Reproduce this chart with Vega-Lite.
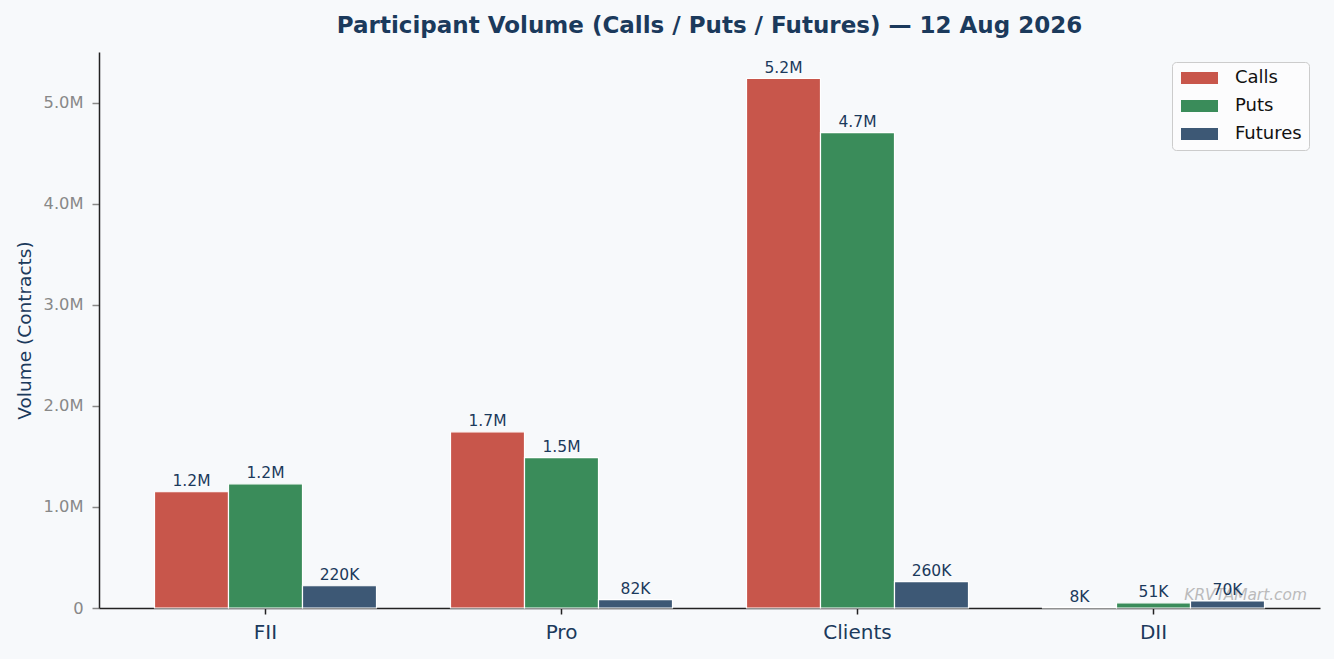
{
  "$schema": "https://vega.github.io/schema/vega-lite/v6.json",
  "width": 1221,
  "height": 556,
  "autosize": {"type": "none"},
  "padding": {"left": 99, "top": 52, "right": 14, "bottom": 51},
  "background": "#f7f9fb",
  "config": {
    "view": {"stroke": null},
    "font": "DejaVu Sans"
  },
  "title": {
    "text": "Participant Volume (Calls / Puts / Futures) — 12 Aug 2026",
    "font": "DejaVu Sans",
    "fontSize": 23,
    "fontWeight": "bold",
    "color": "#1b3a5c",
    "anchor": "middle",
    "offset": 14
  },
  "data": {
    "values": [
      {"participant": "FII", "type": "Calls", "volume": 1150000, "label": "1.2M"},
      {"participant": "FII", "type": "Puts", "volume": 1228000, "label": "1.2M"},
      {"participant": "FII", "type": "Futures", "volume": 220000, "label": "220K"},
      {"participant": "Pro", "type": "Calls", "volume": 1743000, "label": "1.7M"},
      {"participant": "Pro", "type": "Puts", "volume": 1487000, "label": "1.5M"},
      {"participant": "Pro", "type": "Futures", "volume": 82000, "label": "82K"},
      {"participant": "Clients", "type": "Calls", "volume": 5238000, "label": "5.2M"},
      {"participant": "Clients", "type": "Puts", "volume": 4703000, "label": "4.7M"},
      {"participant": "Clients", "type": "Futures", "volume": 260000, "label": "260K"},
      {"participant": "DII", "type": "Calls", "volume": 8000, "label": "8K"},
      {"participant": "DII", "type": "Puts", "volume": 51000, "label": "51K"},
      {"participant": "DII", "type": "Futures", "volume": 70000, "label": "70K"}
    ]
  },
  "encoding": {
    "x": {
      "field": "participant",
      "type": "nominal",
      "sort": ["FII", "Pro", "Clients", "DII"],
      "scale": {"paddingInner": 0, "paddingOuter": 0.0625},
      "axis": {
        "title": null,
        "labelAngle": 0,
        "labelFont": "DejaVu Sans",
        "labelFontSize": 20,
        "labelColor": "#1b3a5c",
        "labelPadding": 8,
        "domainColor": "#222222",
        "domainWidth": 1.5,
        "tickColor": "#222222",
        "tickSize": 6,
        "tickWidth": 1.5
      }
    },
    "xOffset": {
      "field": "type",
      "type": "nominal",
      "sort": ["Calls", "Puts", "Futures"],
      "scale": {"paddingInner": 0, "paddingOuter": 0.5}
    },
    "y": {
      "field": "volume",
      "type": "quantitative",
      "scale": {"domain": [0, 5500000], "nice": false},
      "axis": {
        "title": "Volume (Contracts)",
        "titleFont": "DejaVu Sans",
        "titleFontSize": 18.5,
        "titleFontWeight": "normal",
        "titleColor": "#1b3a5c",
        "titlePadding": 9,
        "values": [0, 1000000, 2000000, 3000000, 4000000, 5000000],
        "labelExpr": "datum.value == 0 ? '0' : format(datum.value / 1000000, '.1f') + 'M'",
        "labelFont": "DejaVu Sans",
        "labelFontSize": 16.3,
        "labelColor": "#888888",
        "labelPadding": 9,
        "grid": false,
        "domainColor": "#222222",
        "domainWidth": 1.5,
        "tickColor": "#888888",
        "tickSize": 7,
        "tickWidth": 1.5
      }
    }
  },
  "layer": [
    {
      "mark": {"type": "bar", "stroke": "#ffffff", "strokeWidth": 1.2},
      "encoding": {
        "color": {
          "field": "type",
          "type": "nominal",
          "sort": ["Calls", "Puts", "Futures"],
          "scale": {"domain": ["Calls", "Puts", "Futures"], "range": ["#c8564b", "#3a8c5a", "#3d5875"]},
          "legend": {
            "title": null,
            "orient": "none",
            "legendX": 1073,
            "legendY": 10,
            "padding": 7,
            "fillColor": "#fcfcfd",
            "strokeColor": "#cccccc",
            "cornerRadius": 4,
            "symbolType": "M-1,-0.857L4.286,-0.857L4.286,0.857L-1,0.857Z",
            "symbolSize": 196,
            "symbolStrokeWidth": 0,
            "labelOffset": 38,
            "labelFont": "DejaVu Sans",
            "labelFontSize": 18,
            "labelColor": "#111111",
            "rowPadding": 10
          }
        }
      }
    },
    {
      "mark": {
        "type": "text",
        "text": "KRVTAMart.com",
        "font": "DejaVu Sans",
        "fontSize": 15.4,
        "fontStyle": "italic",
        "color": "#bbbbbb",
        "align": "right",
        "baseline": "alphabetic",
        "x": {"expr": "width - 13"},
        "y": {"expr": "height - 8"}
      },
      "data": {"values": [{}]},
      "encoding": {"x": null, "y": null, "xOffset": null}
    },
    {
      "mark": {
        "type": "text",
        "font": "DejaVu Sans",
        "fontSize": 15.5,
        "color": "#1b3a5c",
        "baseline": "alphabetic",
        "dy": -5.5
      },
      "encoding": {
        "text": {"field": "label"}
      }
    }
  ]
}
